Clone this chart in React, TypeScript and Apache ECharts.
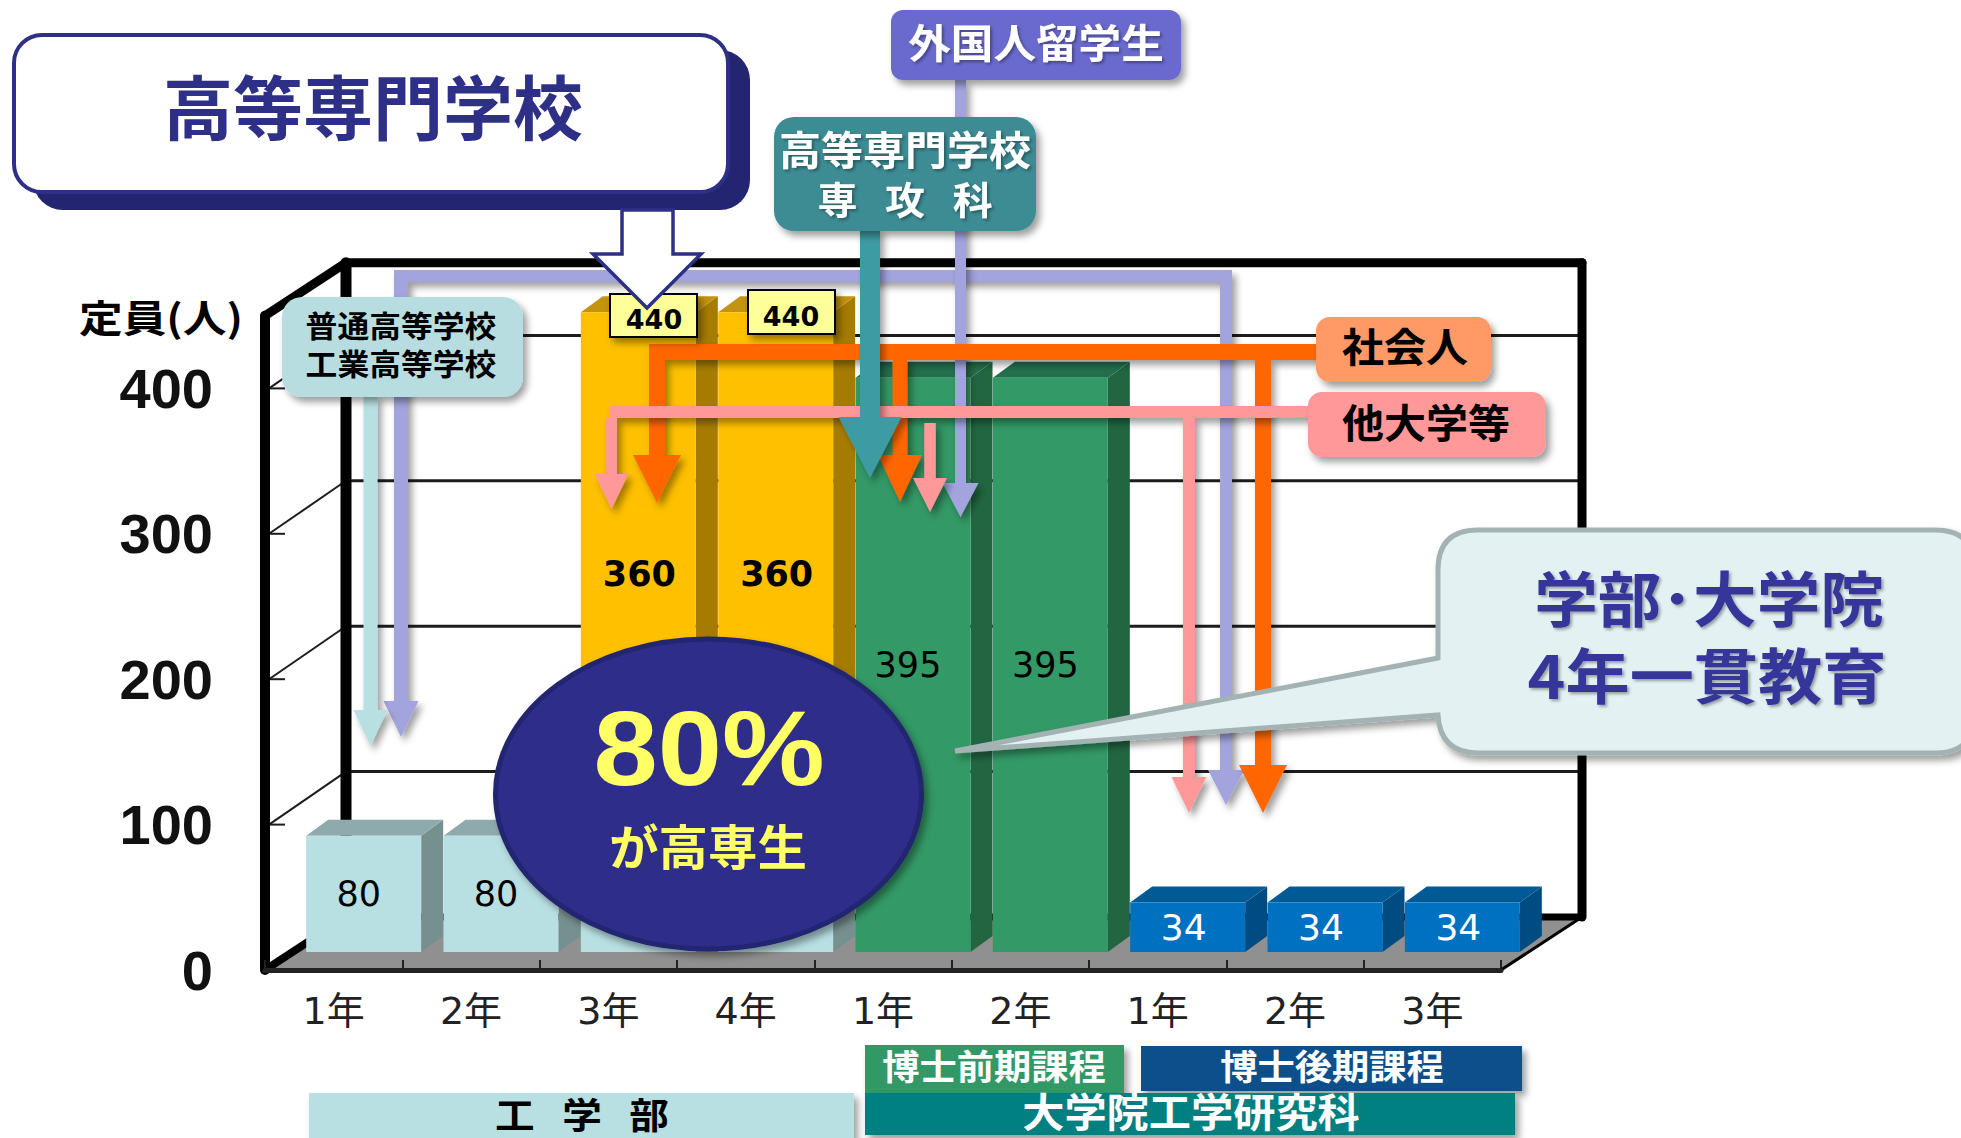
import React, { useEffect, useRef } from "react";
import * as echarts from "echarts";

const categories = ["1年", "2年", "3年", "4年", "1年", "2年", "1年", "2年", "3年"];
const engineering = [80, 80, 80, 80, 0, 0, 0, 0, 0];
const kosen = [0, 0, 360, 360, 0, 0, 0, 0, 0];
const master = [0, 0, 0, 0, 395, 395, 0, 0, 0];
const doctor = [0, 0, 0, 0, 0, 0, 34, 34, 34];
const yTicks = [100, 200, 300, 400];
const yMax = 450;

const CJK = '"Noto Sans CJK JP", sans-serif';
const WIDE = '"DejaVu Sans", "Noto Sans CJK JP", sans-serif';
const NAVY = "#2E3087";

const palettes = [
  { front: "#B8DFE2", top: "#8FAAAC", side: "#76908F", label: "#000", weight: "normal", labelDx: -5, labelSize: 35 },
  { front: "#FFC000", top: "#C49310", side: "#A67C00", label: "#000", weight: "bold", labelDx: 1, labelSize: 35 },
  { front: "#339966", top: "#236F4B", side: "#216641", label: "#000", weight: "normal", labelDx: -5, labelSize: 35 },
  { front: "#0070C0", top: "#005A96", side: "#004C82", label: "#fff", weight: "normal", labelDx: -4, labelSize: 36 },
];

// Floor and depth geometry of the 3D look (px)
const BACK_DX = 81;
const BACK_DY = -53;
const BAR_DX = 30;
const BAR_DY = -18;
const BAR_W = 115;
const CAP_DX = 22;
const CAP_DY = -16;

function barSeries(values: number[], below: number[], p: any, hideLabelOn: number[]) {
  const data = values
    .map((v, i) => [i, below[i], below[i] + v, v, hideLabelOn[i] > 0 ? 0 : 1])
    .filter((d) => d[3] > 0);
  return {
    type: "custom",
    z: 6,
    silent: true,
    encode: { x: 0, y: 2 },
    data,
    renderItem: (_: any, api: any) => {
      const c = api.coord([api.value(0), api.value(2)]);
      const b = api.coord([api.value(0), api.value(1)]);
      const l = c[0] - 57.5 + BAR_DX;
      const r = l + BAR_W;
      const yT = c[1] + BAR_DY;
      const yB = b[1] + BAR_DY;
      const children: any[] = [
        { type: "polygon", shape: { points: [[r, yB], [r + CAP_DX, yB + CAP_DY], [r + CAP_DX, yT + CAP_DY], [r, yT]] }, style: { fill: p.side } },
        { type: "polygon", shape: { points: [[l, yT], [l + CAP_DX, yT + CAP_DY], [r + CAP_DX, yT + CAP_DY], [r, yT]] }, style: { fill: p.top } },
        { type: "rect", shape: { x: l, y: yT, width: BAR_W, height: yB - yT }, style: { fill: p.front } },
      ];
      if (api.value(4)) {
        children.push({
          type: "text",
          style: {
            text: String(api.value(3)),
            x: (l + r) / 2 + p.labelDx,
            y: (yT + yB) / 2,
            textAlign: "center",
            textVerticalAlign: "middle",
            fill: p.label,
            fontSize: p.labelSize,
            fontWeight: p.weight,
            fontFamily: '"DejaVu Sans", sans-serif',
          },
        });
      }
      return { type: "group", children };
    },
  };
}

function wallSeries() {
  return {
    type: "custom",
    z: 1,
    silent: true,
    encode: { y: 0 },
    data: yTicks.map((v) => [v]),
    renderItem: (params: any, api: any) => {
      const cs = params.coordSys;
      const y = api.coord([0, api.value(0)])[1];
      const xL = cs.x;
      const xR = cs.x + cs.width;
      const line = (x1: number, y1: number, x2: number, y2: number, w: number) => ({
        type: "line",
        shape: { x1, y1, x2, y2 },
        style: { stroke: "#1c1c1c", lineWidth: w },
      });
      return {
        type: "group",
        children: [
          line(xL + BACK_DX, y + BACK_DY, xR + BACK_DX, y + BACK_DY, 3),
          line(xL + 4, y, xL + BACK_DX, y + BACK_DY, 2),
          line(xL + 4, y, xL + 20, y, 2),
        ],
      };
    },
  };
}

function frameSeries() {
  return {
    type: "custom",
    z: 2,
    silent: true,
    encode: { y: 0 },
    data: [[yMax]],
    renderItem: (params: any, api: any) => {
      const cs = params.coordSys;
      const yTop = api.coord([0, api.value(0)])[1];
      const xL = cs.x;
      const xR = cs.x + cs.width;
      const y0 = cs.y + cs.height;
      const line = (x1: number, y1: number, x2: number, y2: number, w: number) => ({
        type: "line",
        shape: { x1, y1, x2, y2 },
        style: { stroke: "#000", lineWidth: w, lineCap: "round" },
      });
      return {
        type: "group",
        children: [
          { type: "polygon", shape: { points: [[xL, y0], [xR, y0], [xR + BACK_DX, y0 + BACK_DY], [xL + BACK_DX, y0 + BACK_DY]] }, style: { fill: "#909090" } },
          line(xL + BACK_DX, y0 + BACK_DY, xR + BACK_DX, y0 + BACK_DY, 7),
          line(xL + BACK_DX, yTop + BACK_DY, xL + BACK_DX, y0 + BACK_DY, 11),
          line(xR + BACK_DX, yTop + BACK_DY, xR + BACK_DX, y0 + BACK_DY, 9),
          line(xL + BACK_DX, yTop + BACK_DY, xR + BACK_DX, yTop + BACK_DY, 9),
          line(xL, yTop, xL + BACK_DX, yTop + BACK_DY, 9),
          line(xL, y0, xL + BACK_DX, y0 + BACK_DY, 8),
          line(xR, y0, xR + BACK_DX, y0 + BACK_DY, 3),
        ],
      };
    },
  };
}

const SHADOW = { shadowColor: "rgba(0,0,0,0.38)", shadowBlur: 7, shadowOffsetX: 4, shadowOffsetY: 5 };
const TEXT_SHADOW = { textShadowColor: "rgba(0,0,0,0.35)", textShadowBlur: 3, textShadowOffsetX: 2, textShadowOffsetY: 2 };

type Drop = { cx: number; w: number; headY: number; headW: number; tip: number };

function combPoints(x0: number, x1: number, yT: number, yB: number, drops: Drop[]) {
  const pts: number[][] = [[x0, yT], [x1, yT], [x1, yB]];
  [...drops].sort((a, b) => b.cx - a.cx).forEach((d) => {
    pts.push(
      [d.cx + d.w / 2, yB],
      [d.cx + d.w / 2, d.headY],
      [d.cx + d.headW / 2, d.headY],
      [d.cx, d.tip],
      [d.cx - d.headW / 2, d.headY],
      [d.cx - d.w / 2, d.headY],
      [d.cx - d.w / 2, yB]
    );
  });
  pts.push([x0, yB]);
  return pts;
}

function arrowPoints(cx: number, w: number, yS: number, headY: number, headW: number, tip: number) {
  return [
    [cx - w / 2, yS],
    [cx + w / 2, yS],
    [cx + w / 2, headY],
    [cx + headW / 2, headY],
    [cx, tip],
    [cx - headW / 2, headY],
    [cx - w / 2, headY],
  ];
}

function buildOverlay() {
  let z = 100;
  const els: any[] = [];
  const poly = (points: number[][], fill: string, shadow = true, extra: any = {}) =>
    els.push({ type: "polygon", z: z++, shape: { points }, style: { fill, ...(shadow ? SHADOW : {}), ...extra } });
  const box = (x: number, y: number, x2: number, y2: number, r: number, fill: string, shadow = true, extra: any = {}) =>
    els.push({ type: "rect", z: z++, shape: { x, y, width: x2 - x, height: y2 - y, r }, style: { fill, ...(shadow ? SHADOW : {}), ...extra } });
  const text = (t: string, x: number, y: number, size: number, fill: string, sx = 1, family = CJK, extra: any = {}) =>
    els.push({
      type: "text",
      z: z++,
      x,
      y: family === CJK ? y - 0.07 * size : y,
      scaleX: sx,
      style: { text: t, x: 0, y: 0, textAlign: "center", textVerticalAlign: "middle", fill, fontSize: size, fontWeight: "bold", fontFamily: family, ...extra },
    });

  // Purple routes (lowest)
  const purple = "#A3A3DE";
  poly(combPoints(394, 1232, 270, 282, [
    { cx: 401, w: 14, headY: 701, headW: 35, tip: 737 },
    { cx: 1226, w: 12, headY: 770, headW: 36, tip: 805 },
  ]), purple);
  poly(arrowPoints(960.5, 11, 80, 483, 36, 517), purple);

  // Light blue route
  poly(arrowPoints(370.5, 14, 395, 710, 34, 746), "#B8DFE2");

  // Orange route
  poly(combPoints(649, 1318, 344, 360, [
    { cx: 657, w: 16, headY: 455, headW: 48, tip: 503 },
    { cx: 900, w: 15, headY: 455, headW: 44, tip: 502 },
    { cx: 1263, w: 16, headY: 765, headW: 48, tip: 813 },
  ]), "#FF6600");

  // Pink route
  poly(combPoints(610, 1311, 406, 418, [
    { cx: 611.5, w: 11, headY: 474, headW: 34, tip: 509 },
    { cx: 1189, w: 12, headY: 777, headW: 35, tip: 813 },
  ]), "#FF9999");
  poly(arrowPoints(930, 11.5, 423, 478, 34, 512), "#FF9999");

  // Teal arrow
  poly(arrowPoints(870, 20, 228, 417, 63, 478), "#3E9BA3");

  // 440 boxes
  box(610, 294, 697, 337, 0, "#FFFF99", true, { stroke: "#000", lineWidth: 2 });
  text("440", 654, 319, 27, "#000", 1, '"DejaVu Sans", sans-serif');
  box(748, 290, 835, 334, 0, "#FFFF99", true, { stroke: "#000", lineWidth: 2 });
  text("440", 791, 316, 27, "#000", 1, '"DejaVu Sans", sans-serif');

  // Title
  box(33, 50, 750, 210, 30, "#232570", false);
  box(14, 35, 728, 192, 28, "#fff", false, { stroke: NAVY, lineWidth: 4 });
  text("高等専門学校", 373, 109, 70, NAVY, 1.0);

  // White arrow
  poly(
    [[622, 210], [673, 210], [673, 254], [701, 254], [647, 308], [593, 254], [622, 254]],
    "#fff",
    false,
    { stroke: NAVY, lineWidth: 3.5 }
  );

  // Source boxes
  box(891, 10, 1181, 80, 12, "#6B6BCE");
  text("外国人留学生", 1036, 43, 40, "#fff", 1.065, CJK, TEXT_SHADOW);

  box(774, 117, 1036, 231, 20, "#3E8B93");
  text("高等専門学校", 905, 150, 40, "#fff", 1.05, CJK, TEXT_SHADOW);
  text("専  攻  科", 905, 201, 38, "#fff", 1.05, WIDE, TEXT_SHADOW);

  box(282, 297, 523, 397, 20, "#B8DDE1");
  text("普通高等学校", 401, 326, 30, "#000", 1.06);
  text("工業高等学校", 401, 364, 30, "#000", 1.06);

  box(1316, 317, 1491, 382, 14, "#FF9966");
  text("社会人", 1405, 347, 40, "#000", 1.05);

  box(1308, 392, 1546, 457, 14, "#FF9999");
  text("他大学等", 1426, 423, 40, "#000", 1.05);

  // Circle
  els.push({
    type: "ellipse",
    z: z++,
    shape: { cx: 708.5, cy: 794, rx: 213, ry: 155 },
    style: { fill: "#2E2E8A", stroke: "#232570", lineWidth: 5, ...SHADOW },
  });
  text("80%", 709, 748, 106, "#FFFF66", 1.09, '"Liberation Sans", sans-serif');
  text("が高専生", 708, 847, 48, "#FFFF66", 1.03);

  // Speech bubble
  els.push({
    type: "bubble",
    z: z++,
    x: 0,
    y: 0,
    style: { fill: "#E3F1F3", stroke: "#A3B3B3", lineWidth: 5, ...SHADOW },
  });
  text("学部･大学院", 1709, 600, 60, "#36369A", 1.06, CJK, TEXT_SHADOW);
  text("4年一貫教育", 1707, 677, 60, "#36369A", 1.07, CJK, TEXT_SHADOW);

  // Bottom labels
  box(309, 1093, 854, 1140, 0, "#B8DFE2");
  text("工  学  部", 582, 1117, 36, "#000", 1.1, WIDE);
  box(865, 1045, 1124, 1093, 0, "#339966");
  text("博士前期課程", 994, 1067, 35, "#fff", 1.065);
  box(1141, 1046, 1522, 1091, 0, "#0F4F8A");
  text("博士後期課程", 1332, 1067, 35, "#fff", 1.065);
  box(865, 1093, 1515, 1135, 0, "#008080");
  text("大学院工学研究科", 1191, 1112, 40, "#fff", 1.055);

  // y axis title
  text("定員(人)", 161, 318, 38, "#000", 1.15);

  return els;
}

echarts.graphic.registerShape(
  "bubble",
  echarts.graphic.extendPath(
    "M1438 658 L955 751 L1438 715 Q1440 753 1478 753 L1935 753 Q1975 753 1975 713 L1975 570 Q1975 530 1935 530 L1478 530 Q1438 530 1438 570 Z",
    {}
  )
);

export default function App() {
  const ref = useRef<HTMLDivElement>(null);
  useEffect(() => {
    if (!ref.current) return;
    document.body.style.overflow = "hidden";
    const chart = echarts.init(ref.current, undefined, { renderer: "svg" });
    const zero = categories.map(() => 0);
    const engTop = engineering.map((v) => v);
    chart.setOption({
      animation: false,
      backgroundColor: "#fff",
      grid: { left: 265, top: 970 - 1.454 * yMax, width: 1236, height: 1.454 * yMax, containLabel: false },
      xAxis: {
        type: "category",
        data: categories,
        boundaryGap: true,
        z: 5,
        axisLine: { show: true, lineStyle: { color: "#222", width: 5 } },
        axisTick: { show: true, inside: true, length: 10, lineStyle: { color: "#222", width: 2 } },
        axisLabel: { interval: 0, margin: 22, fontSize: 38, color: "#222", fontFamily: WIDE },
      },
      yAxis: {
        type: "value",
        min: 0,
        max: yMax,
        interval: 100,
        z: 5,
        splitLine: { show: false },
        axisTick: { show: false },
        axisLine: { show: true, onZero: false, lineStyle: { color: "#000", width: 10 } },
        axisLabel: {
          margin: 52,
          showMaxLabel: false,
          fontSize: 56,
          fontWeight: "bold",
          color: "#111",
          fontFamily: '"Liberation Sans", sans-serif',
        },
      },
      series: [
        frameSeries(),
        wallSeries(),
        barSeries(engineering, zero, palettes[0], kosen),
        barSeries(kosen, engTop, palettes[1], zero),
        barSeries(master, zero, palettes[2], zero),
        barSeries(doctor, zero, palettes[3], zero),
      ],
      graphic: { elements: buildOverlay() },
    });
    return () => chart.dispose();
  }, []);
  return <div ref={ref} style={{ position: "absolute", left: 0, top: 0, width: 1961, height: 1138 }} />;
}
